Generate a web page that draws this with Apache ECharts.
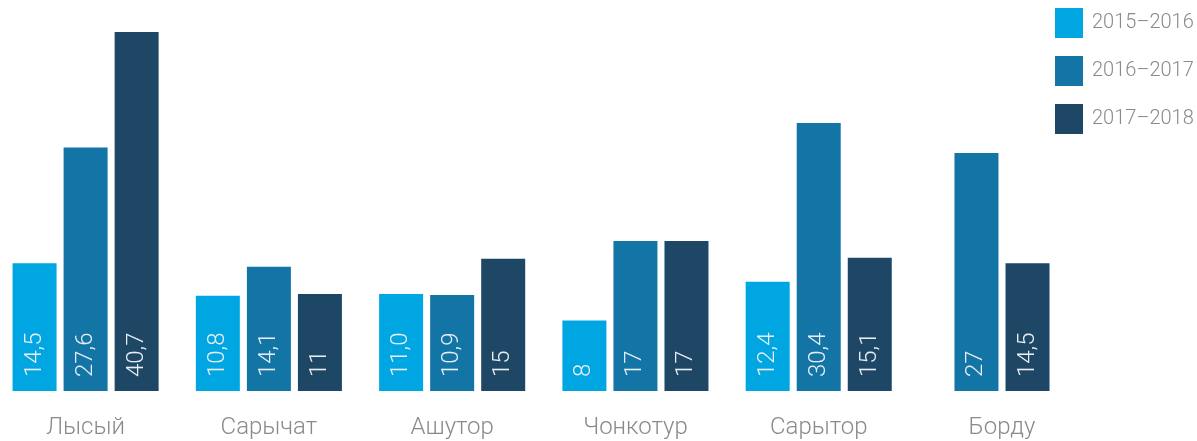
<!DOCTYPE html>
<html>
<head>
<meta charset="utf-8">
<script src="https://cdn.jsdelivr.net/npm/echarts@6/dist/echarts.min.js"></script>
<style>
html,body{margin:0;padding:0;background:#fff;}
#c{width:1197px;height:441px;}
</style>
</head>
<body>
<div id="c"></div>
<script>
var categories = ['Лысый', 'Сарычат', 'Ашутор', 'Чонкотур', 'Сарытор', 'Борду'];
var seriesNames = ['2015–2016', '2016–2017', '2017–2018'];
var values2015 = [14.5, 10.8, 11.0, 8, 12.4, null];
var values2016 = [27.6, 14.1, 10.9, 17, 30.4, 27];
var values2017 = [40.7, 11, 15, 17, 15.1, 14.5];
var labels2015 = ['14,5', '10,8', '11,0', '8', '12,4', ''];
var labels2016 = ['27,6', '14,1', '10,9', '17', '30,4', '27'];
var labels2017 = ['40,7', '11', '15', '17', '15,1', '14,5'];
var colors = ['#00a6e2', '#1374a6', '#1e4766'];

var allValues = [values2015, values2016, values2017];
var allLabels = [labels2015, labels2016, labels2017];

var complete = categories.map(function (c, i) {
  return allValues.every(function (arr) { return arr[i] != null; });
});

var series = [];
function makeSeries(k, data, axisIndex) {
  return {
    name: seriesNames[k],
    type: 'bar',
    xAxisIndex: axisIndex,
    yAxisIndex: 0,
    data: data,
    barWidth: 44,
    barGap: '16%',
    clip: false,
    itemStyle: { color: colors[k] },
    emphasis: { disabled: true },
    label: {
      show: true,
      position: 'insideBottom',
      rotate: 90,
      align: 'left',
      verticalAlign: 'middle',
      distance: 14,
      color: '#e8eef3',
      fontFamily: 'Roboto',
      fontWeight: 300,
      fontSize: 24,
      formatter: function (p) { return allLabels[k][p.dataIndex]; }
    }
  };
}
allValues.forEach(function (arr, k) {
  var mainData = arr.map(function (v, i) { return complete[i] ? v : null; });
  series.push(makeSeries(k, mainData, 0));
});
allValues.forEach(function (arr, k) {
  var altData = arr.map(function (v, i) { return (!complete[i] && v != null) ? v : null; });
  if (altData.some(function (v) { return v != null; })) {
    series.push(makeSeries(k, altData, 1));
  }
});

var chart = echarts.init(document.getElementById('c'), null, { renderer: 'canvas' });
chart.setOption({
  backgroundColor: '#ffffff',
  animation: false,
  color: colors,
  legend: {
    orient: 'vertical',
    left: 1055,
    top: 8,
    padding: 0,
    itemWidth: 28,
    itemHeight: 30,
    itemGap: 18,
    icon: 'rect',
    data: seriesNames,
    selectedMode: false,
    textStyle: {
      color: '#8a8a8a',
      fontFamily: 'Roboto',
      fontWeight: 300,
      fontSize: 20,
      padding: [0, 0, 0, 4]
    }
  },
  grid: { left: 85.6, right: 195, top: 3, bottom: 50, containLabel: false },
  xAxis: [{
    type: 'category',
    data: categories,
    boundaryGap: false,
    axisLine: { show: false },
    axisTick: { show: false },
    splitLine: { show: false },
    axisLabel: {
      color: '#8a8a8a',
      fontFamily: 'Roboto',
      fontWeight: 300,
      fontSize: 24,
      margin: 25,
      interval: 0
    }
  }, {
    type: 'category',
    data: categories,
    boundaryGap: false,
    show: false
  }],
  yAxis: {
    type: 'value',
    min: 0,
    max: 44,
    show: false,
    splitLine: { show: false }
  },
  series: series
});
</script>
</body>
</html>
